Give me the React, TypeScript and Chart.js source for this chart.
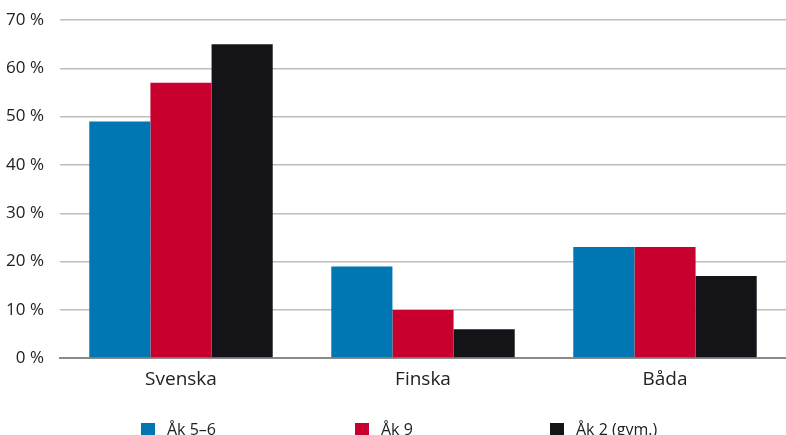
import React, { useEffect, useRef } from "react";
import { Chart, registerables } from "chart.js";

Chart.register(...registerables);

const categories = ["Svenska", "Finska", "Båda"];
const seriesNames = ["Åk 5–6", "Åk 9", "Åk 2 (gym.)"];
const ak56 = [49, 19, 23];
const ak9 = [57, 10, 23];
const ak2 = [65, 6, 17];
const yTicks = [0, 10, 20, 30, 40, 50, 60, 70];

const colors = ["#0077b3", "#c8002d", "#141418"];
const FONT = "'Open Sans', 'Noto Sans', sans-serif";

export default function App() {
  const ref = useRef<HTMLCanvasElement | null>(null);

  useEffect(() => {
    document.body.style.margin = "0";
    const ctx = ref.current!;
    const values = [ak56, ak9, ak2];
    const chart = new Chart(ctx, {
      type: "bar",
      data: {
        labels: categories,
        datasets: seriesNames.map((name, i) => ({
          label: name,
          data: values[i],
          backgroundColor: colors[i],
          borderWidth: 0,
          barPercentage: 1,
          categoryPercentage: 0.758,
        })),
      },
      options: {
        animation: false,
        responsive: false,
        maintainAspectRatio: false,
        layout: { padding: { top: 0, right: 0, bottom: 42, left: 0 } },
        plugins: { legend: { display: false }, tooltip: { enabled: false } },
        scales: {
          x: {
            grid: { display: false },
            border: { display: true, color: "#8a8a8a", width: 2 },
            ticks: { color: "#222", font: { family: FONT, size: 19 }, padding: 2 },
          },
          y: {
            min: 0,
            max: 70,
            afterFit: (s: any) => {
              s.width = 60;
              s.paddingTop = 20;
            },
            afterBuildTicks: (s: any) => {
              s.ticks = yTicks.map((v) => ({ value: v }));
            },
            border: { display: false },
            grid: {
              color: (c: any) => (c.tick && c.tick.value === 0 ? "#8a8a8a" : "#bdbdbd"),
              lineWidth: (c: any) => (c.tick && c.tick.value === 0 ? 2 : 1.5),
              drawTicks: false,
            },
            ticks: {
              color: "#222",
              font: { family: FONT, size: 17 },
              padding: 16,
              callback: (v: any) => `${v} %`,
            },
          },
        },
      },
    });
    return () => chart.destroy();
  }, []);

  const legendLeft = [141, 355, 550];

  return (
    <div style={{ position: "relative", width: 786, height: 435, overflow: "hidden", background: "#fff" }}>
      <canvas ref={ref} width={786} height={435} style={{ display: "block" }} />
      {seriesNames.map((name, i) => (
        <div
          key={name}
          style={{
            position: "absolute",
            left: legendLeft[i],
            top: 418,
            display: "flex",
            alignItems: "flex-start",
            fontFamily: FONT,
            fontSize: 16,
            lineHeight: "22px",
            color: "#222",
            whiteSpace: "nowrap",
          }}
        >
          <span style={{ display: "inline-block", width: 14, height: 14, background: colors[i], marginTop: 5, marginRight: 12 }} />
          <span>{name}</span>
        </div>
      ))}
    </div>
  );
}
